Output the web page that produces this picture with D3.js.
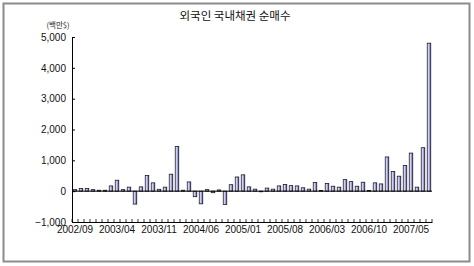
<!DOCTYPE html>
<html>
<head>
<meta charset="utf-8">
<script src="https://cdn.jsdelivr.net/npm/d3@7"></script>
<style>
  body { margin: 0; background: #fff; }
  svg { display: block; }
</style>
</head>
<body>
<svg id="chart" width="474" height="266"></svg>
<script>
// monthly categories, 2002/09 .. 2007/08
const months = [
  '2002/09','2002/10','2002/11','2002/12','2003/01','2003/02','2003/03','2003/04','2003/05','2003/06',
  '2003/07','2003/08','2003/09','2003/10','2003/11','2003/12','2004/01','2004/02','2004/03','2004/04',
  '2004/05','2004/06','2004/07','2004/08','2004/09','2004/10','2004/11','2004/12','2005/01','2005/02',
  '2005/03','2005/04','2005/05','2005/06','2005/07','2005/08','2005/09','2005/10','2005/11','2005/12',
  '2006/01','2006/02','2006/03','2006/04','2006/05','2006/06','2006/07','2006/08','2006/09','2006/10',
  '2006/11','2006/12','2007/01','2007/02','2007/03','2007/04','2007/05','2007/06','2007/07','2007/08'
];
// net purchase, million $
const netBuy = [
  50, 90, 90, 50, 30, 30, 170, 355, 50, 130,
  -420, 140, 505, 270, 60, 130, 550, 1450, 30, 300,
  -180, -410, 50, -50, 40, -430, 210, 460, 530, 140,
  65, -20, 100, 65, 170, 215, 180, 170, 110, 65,
  280, 20, 250, 160, 130, 375, 310, 160, 290, 20,
  270, 235, 1110, 635, 485, 830, 1235, 130, 1410, 4800
];
const xTickLabels = ['2002/09','2003/04','2003/11','2004/06','2005/01','2005/08','2006/03','2006/10','2007/05'];
const yTicks = [-1000, 0, 1000, 2000, 3000, 4000, 5000];

const svg = d3.select('#chart');
const margin = { top: 37, right: 42, bottom: 44, left: 72 };
const width = 474 - margin.left - margin.right;
const height = 266 - margin.top - margin.bottom;

// frame
svg.append('rect')
  .attr('x', 3.5).attr('y', 3.5)
  .attr('width', 466).attr('height', 258)
  .attr('fill', 'none')
  .attr('stroke', '#8c8c8c')
  .attr('stroke-width', 2);

svg.append('text')
  .attr('x', 235).attr('y', 20)
  .attr('text-anchor', 'middle')
  .attr('font-family', '"Noto Sans CJK KR", sans-serif')
  .attr('font-size', 11.5)
  .attr('fill', '#111')
  .text('외국인 국내채권 순매수');

svg.append('text')
  .attr('x', 58).attr('y', 28)
  .attr('text-anchor', 'middle')
  .attr('font-family', '"Noto Sans CJK KR", sans-serif')
  .attr('font-size', 7.5)
  .attr('fill', '#222')
  .text('(백만$)');

const defs = svg.append('defs');
const grad = defs.append('linearGradient').attr('id', 'barFill')
  .attr('x1', '0%').attr('x2', '100%').attr('y1', '0%').attr('y2', '0%');
grad.append('stop').attr('offset', '0%').attr('stop-color', '#ffffff');
grad.append('stop').attr('offset', '45%').attr('stop-color', '#c4c4ec');
grad.append('stop').attr('offset', '100%').attr('stop-color', '#5a5aa4');

const g = svg.append('g')
  .attr('transform', `translate(${margin.left}, ${margin.top})`);

const xScale = d3.scaleBand()
  .domain(months)
  .range([0, width])
  .paddingInner(0.42)
  .paddingOuter(0.21);
const yScale = d3.scaleLinear()
  .domain([-1000, 5000])
  .range([height, 0]);

// bars
g.selectAll('.bar')
  .data(months.map((m, i) => [m, netBuy[i]]))
  .enter().append('rect')
    .attr('class', 'bar')
    .attr('x', d => xScale(d[0]))
    .attr('width', xScale.bandwidth())
    .attr('y', d => yScale(Math.max(0, d[1])))
    .attr('height', d => Math.abs(yScale(d[1]) - yScale(0)))
    .attr('fill', 'url(#barFill)')
    .attr('stroke', '#1a1a2a')
    .attr('stroke-width', 0.8);

// zero line
g.append('line')
  .attr('x1', 0).attr('x2', width)
  .attr('y1', yScale(0)).attr('y2', yScale(0))
  .attr('stroke', '#000')
  .attr('stroke-width', 1);

// y axis, ticks pointing inside
const yAxis = g.append('g')
  .call(d3.axisLeft(yScale)
    .tickValues(yTicks)
    .tickSizeInner(-3)
    .tickSizeOuter(0)
    .tickPadding(6)
    .tickFormat(d3.format(',')));
yAxis.select('.domain').attr('stroke', '#000');
yAxis.selectAll('text')
  .attr('font-family', '"Liberation Sans", Arial, sans-serif')
  .attr('font-size', 10)
  .attr('fill', '#111')
  .text(d => d < 0 ? '\u2212' + d3.format(',')(-d) : d3.format(',')(d));

// x axis at bottom (-1,000), labels every 7 months
const xAxis = g.append('g')
  .attr('transform', `translate(0, ${height})`)
  .call(d3.axisBottom(xScale)
    .tickValues(xTickLabels)
    .tickSize(0)
    .tickPadding(4));
xAxis.select('.domain').attr('stroke', '#000');
xAxis.selectAll('text')
  .attr('font-family', '"Liberation Sans", Arial, sans-serif')
  .attr('font-size', 10)
  .attr('fill', '#111');

// month boundary ticks on the x axis
const step = xScale.step();
g.append('g').selectAll('line')
  .data(d3.range(months.length + 1))
  .enter().append('line')
    .attr('x1', i => xScale(months[Math.min(i, months.length - 1)]) - (i < months.length ? step * 0.21 : -step * 0.79))
    .attr('x2', i => xScale(months[Math.min(i, months.length - 1)]) - (i < months.length ? step * 0.21 : -step * 0.79))
    .attr('y1', height)
    .attr('y2', height - 3)
    .attr('stroke', '#000')
    .attr('stroke-width', 0.8);
</script>
</body>
</html>
